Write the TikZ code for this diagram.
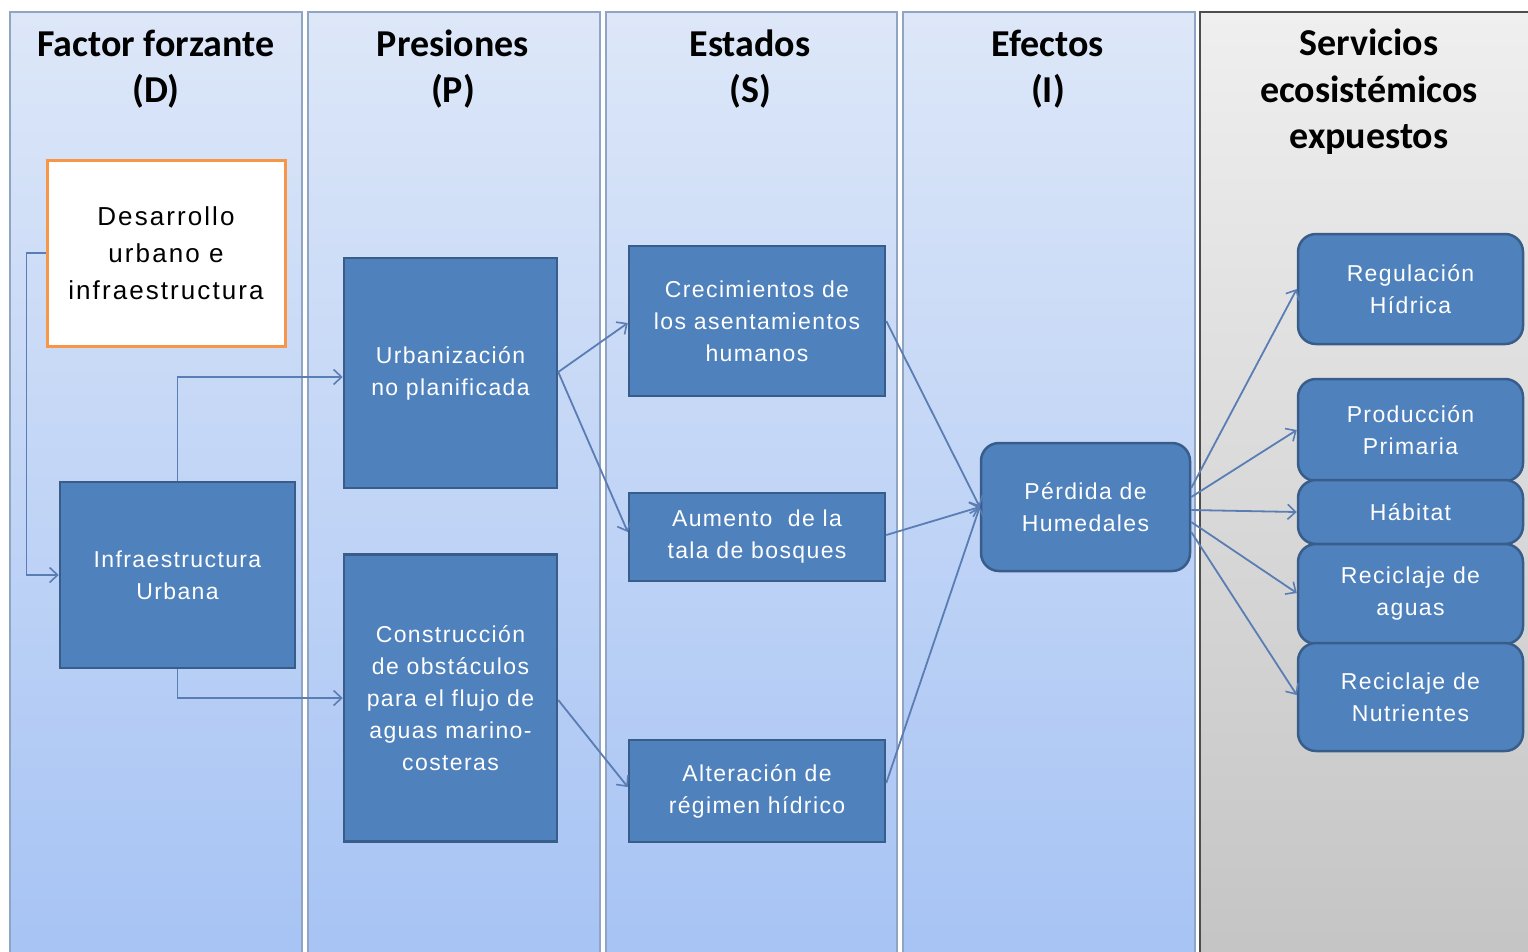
\documentclass[tikz,border=0pt]{standalone}
\usepackage{fontspec}
\setmainfont{Liberation Sans}
\newfontfamily\headfont{Carlito}
\newfontfamily\boxfont[LetterSpace=6]{Liberation Sans}
\newfontfamily\descfont[LetterSpace=8]{Liberation Sans}
\usetikzlibrary{arrows.meta}
\definecolor{boxfill}{HTML}{4F81BD}
\definecolor{boxline}{HTML}{385D8A}
\definecolor{arrcol}{HTML}{5A7DB4}
\definecolor{coltop}{HTML}{DDE7F8}
\definecolor{colbot}{HTML}{A6C3F4}
\definecolor{colline}{HTML}{8FA5C3}
\definecolor{graytop}{HTML}{EFEFEF}
\definecolor{graybot}{HTML}{C4C4C4}
\definecolor{grayline}{HTML}{4D4D4D}
\definecolor{desline}{HTML}{F79646}
\begin{document}
\begin{tikzpicture}[x=1pt,y=1pt,
  column/.style={top color=coltop, bottom color=colbot, draw=colline, line width=2pt},
  graycol/.style={top color=graytop, bottom color=graybot, draw=grayline, line width=2pt},
  head/.style={font={\headfont\bfseries\fontsize{38}{46.5}\selectfont}, align=center, text=black, inner sep=0pt},
  bx/.style={draw=boxline, fill=boxfill, line width=2.5pt, text=white, align=center, inner sep=0pt,
    font={\boxfont\fontsize{23}{32}\selectfont}},
  rbx/.style={bx, rounded corners=18pt},
  desbox/.style={draw=desline, fill=white, line width=3pt, text=black, align=center, inner sep=0pt,
    font={\descfont\fontsize{26}{37}\selectfont}},
  arr/.style={draw=arrcol, line width=1.8pt, -{Straight Barb[length=8pt,width=15pt,line width=1.6pt]}},
  ]
\useasboundingbox (0,0) rectangle (1528,-951);
\clip (0,0) rectangle (1528,-951);
\fill[white] (0,0) rectangle (1528,-951);
% columns
\shade[column] (10,-12) rectangle (302,-965);
\shade[column] (308,-12) rectangle (600,-965);
\shade[column] (606,-12) rectangle (897,-965);
\shade[column] (903,-12) rectangle (1195,-965);
\shade[graycol] (1200,-12) rectangle (1545,-965);
% headers
\node[head] (h1) at (156,-69) {Factor forzante\\(D)};
\node[head] (h2) at (453,-69) {Presiones\\(P)};
\node[head] (h3) at (750,-69) {Estados\\(S)};
\node[head] (h4) at (1048,-69) {Efectos\\(I)};
\node[head] (h5) at (1369,-92) {Servicios\\ecosistémicos\\expuestos};
% boxes
\node[desbox, minimum width=238pt, minimum height=186pt] (des) at (166,-253) {Desarrollo\\urbano e\\infraestructura};
\node[bx, minimum width=235pt, minimum height=186pt] (inf) at (177.5,-575) {Infraestructura\\Urbana};
\node[bx, minimum width=213pt, minimum height=230pt] (urb) at (450.5,-373) {Urbanización\\no planificada};
\node[bx, minimum width=213pt, minimum height=287pt] (con) at (450.5,-698) {Construcción\\de obstáculos\\para el flujo de\\aguas marino-\\costeras};
\node[bx, minimum width=256pt, minimum height=150pt] (cre) at (757,-321) {Crecimientos de\\los asentamientos\\humanos};
\node[bx, minimum width=256pt, minimum height=88pt] (aum) at (757,-537) {Aumento\ \ de la\\tala de bosques};
\node[bx, minimum width=256pt, minimum height=102pt] (alt) at (757,-791) {Alteración de\\régimen hídrico};
\node[rbx, minimum width=209pt, minimum height=128pt] (per) at (1085.5,-507) {Pérdida de\\Humedales};
\node[rbx, minimum width=225pt, minimum height=110pt] (reg) at (1410.5,-289) {Regulación\\Hídrica};
\node[rbx, minimum width=225pt, minimum height=102pt] (pro) at (1410.5,-430) {Producción\\Primaria};
\node[rbx, minimum width=225pt, minimum height=64pt] (hab) at (1410.5,-512) {Hábitat};
\node[rbx, minimum width=225pt, minimum height=100pt] (rea) at (1410.5,-594) {Reciclaje de\\aguas};
\node[rbx, minimum width=225pt, minimum height=108pt] (ren) at (1410.5,-697) {Reciclaje de\\Nutrientes};
% connectors
\draw[arr] (des.west) -- ++(-19,0) |- (inf.west);
\draw[arr] (inf.north) |- ([yshift=-4pt]urb.west);
\draw[arr] (inf.south) |- (con.west);
\draw[arr] ([yshift=1pt]urb.east) -- ([yshift=-2pt]cre.west);
\draw[arr] ([yshift=1pt]urb.east) -- ([yshift=5pt]aum.west);
\draw[arr] ([yshift=-2pt]con.east) -- ([yshift=4pt]alt.west);
\draw[arr] (cre.east) -- (per.west);
\draw[arr] ([yshift=2pt]aum.east) -- (per.west);
\draw[arr] ([yshift=8pt]alt.east) -- (per.west);
\draw[arr] ([yshift=19pt]per.east) -- (reg.west);
\draw[arr] ([yshift=10pt]per.east) -- (pro.west);
\draw[arr] ([yshift=-3pt]per.east) -- (hab.west);
\draw[arr] ([yshift=-15pt]per.east) -- ([yshift=1pt]rea.west);
\draw[arr] ([yshift=-25pt]per.east) -- ([yshift=2pt]ren.west);
\end{tikzpicture}
\end{document}
